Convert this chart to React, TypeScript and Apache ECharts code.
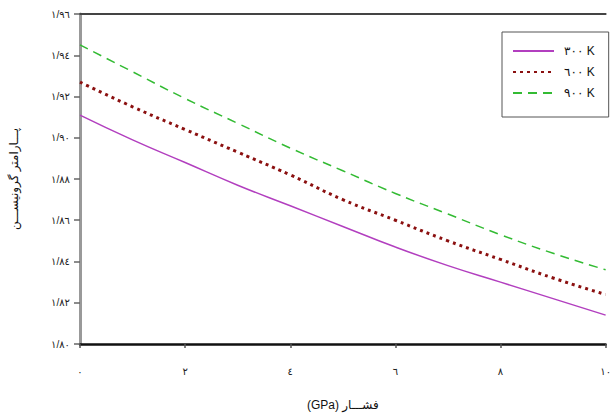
import React, { useEffect, useRef } from "react";
import * as echarts from "echarts";

const pressures = [0, 1, 2, 3, 4, 5, 6, 7, 8, 9, 10];
const gamma300 = [1.911, 1.899, 1.888, 1.877, 1.867, 1.857, 1.847, 1.838, 1.830, 1.822, 1.814];
const gamma600 = [1.927, 1.915, 1.904, 1.893, 1.882, 1.870, 1.860, 1.850, 1.841, 1.832, 1.824];
const gamma900 = [1.945, 1.932, 1.919, 1.907, 1.895, 1.884, 1.873, 1.863, 1.853, 1.844, 1.836];
const seriesNames = ["٣٠٠ K", "٦٠٠ K", "٩٠٠ K"];
const xTitle = "(GPa) فشـــار";
const yTitle = "پـــارامتر گرونیســـن";

const arabicDigits = ["٠", "١", "٢", "٣", "٤", "٥", "٦", "٧", "٨", "٩"];
const toArabic = (s: string) => s.replace(/[0-9]/g, (d) => arabicDigits[Number(d)]).replace(".", "/");

const FONT = "'Liberation Sans', 'DejaVu Sans', Arial, sans-serif";

export default function App() {
  const ref = useRef<HTMLDivElement>(null);
  useEffect(() => {
    if (!ref.current) return;
    const chart = echarts.init(ref.current, undefined, { renderer: "svg" });
    const pairs = (ys: number[]) => pressures.map((x, i) => [x, ys[i]]);
    chart.setOption({
      animation: false,
      textStyle: { fontFamily: FONT },
      grid: { left: 78, right: 3, top: 14, bottom: 68 },
      legend: {
        left: 502,
        top: 32,
        orient: "vertical",
        padding: [13, 14, 18, 10],
        itemWidth: 41,
        itemHeight: 14,
        itemGap: 9,
        borderColor: "#555",
        borderWidth: 1,
        itemStyle: { opacity: 0 },
        textStyle: { fontSize: 12, color: "#111", fontFamily: FONT, padding: [0, 0, 0, 5] },
        data: seriesNames,
      },
      xAxis: [
        {
          type: "value",
          min: 0,
          max: 10,
          interval: 2,
          name: xTitle,
          nameLocation: "middle",
          nameGap: 55,
          nameTextStyle: { fontSize: 12, color: "#111", fontFamily: FONT },
          axisLine: { show: true, lineStyle: { color: "#111", width: 2.5 } },
          axisTick: { show: true, length: 4, lineStyle: { color: "#555", width: 1.5 } },
          axisLabel: {
            margin: 22,
            fontSize: 10,
            color: "#222",
            formatter: (v: number) => toArabic(String(v)),
          },
          splitLine: { show: false },
        },
        {
          type: "value",
          position: "top",
          min: 0,
          max: 10,
          axisLine: { show: true, lineStyle: { color: "#444", width: 2 } },
          axisTick: { show: false },
          axisLabel: { show: false },
          splitLine: { show: false },
        },
      ],
      yAxis: [
        {
          type: "value",
          min: 1.8,
          max: 1.96,
          interval: 0.02,
          name: yTitle,
          nameLocation: "middle",
          nameGap: 60,
          nameRotate: 90,
          nameTextStyle: { fontSize: 12, color: "#111", fontFamily: FONT },
          axisLine: { show: true, lineStyle: { color: "#999", width: 3 } },
          axisTick: { show: true, length: 6, lineStyle: { color: "#666", width: 1.5 } },
          axisLabel: {
            margin: 10,
            fontSize: 10,
            color: "#222",
            formatter: (v: number) => toArabic(v.toFixed(2)),
          },
          splitLine: { show: false },
        },
        {
          type: "value",
          position: "right",
          min: 1.8,
          max: 1.96,
          axisLine: { show: true, lineStyle: { color: "#999", width: 2 } },
          axisTick: { show: false },
          axisLabel: { show: false },
          splitLine: { show: false },
        },
      ],
      series: [
        {
          name: seriesNames[0],
          type: "line",
          data: pairs(gamma300),
          smooth: true,
          symbol: "none",
          lineStyle: { color: "#b23fbf", width: 1.5, type: "solid" },
          itemStyle: { color: "#b23fbf" },
        },
        {
          name: seriesNames[1],
          type: "line",
          data: pairs(gamma600),
          smooth: true,
          symbol: "none",
          lineStyle: { color: "#8b1010", width: 3, type: [3, 4] },
          itemStyle: { color: "#8b1010" },
        },
        {
          name: seriesNames[2],
          type: "line",
          data: pairs(gamma900),
          smooth: true,
          symbol: "none",
          lineStyle: { color: "#33bb33", width: 1.5, type: [9, 6] },
          itemStyle: { color: "#33bb33" },
        },
      ],
    });
    return () => chart.dispose();
  }, []);
  return (
    <div
      ref={ref}
      style={{ position: "fixed", left: 0, top: 0, width: 614, height: 416, background: "#fff" }}
    />
  );
}
